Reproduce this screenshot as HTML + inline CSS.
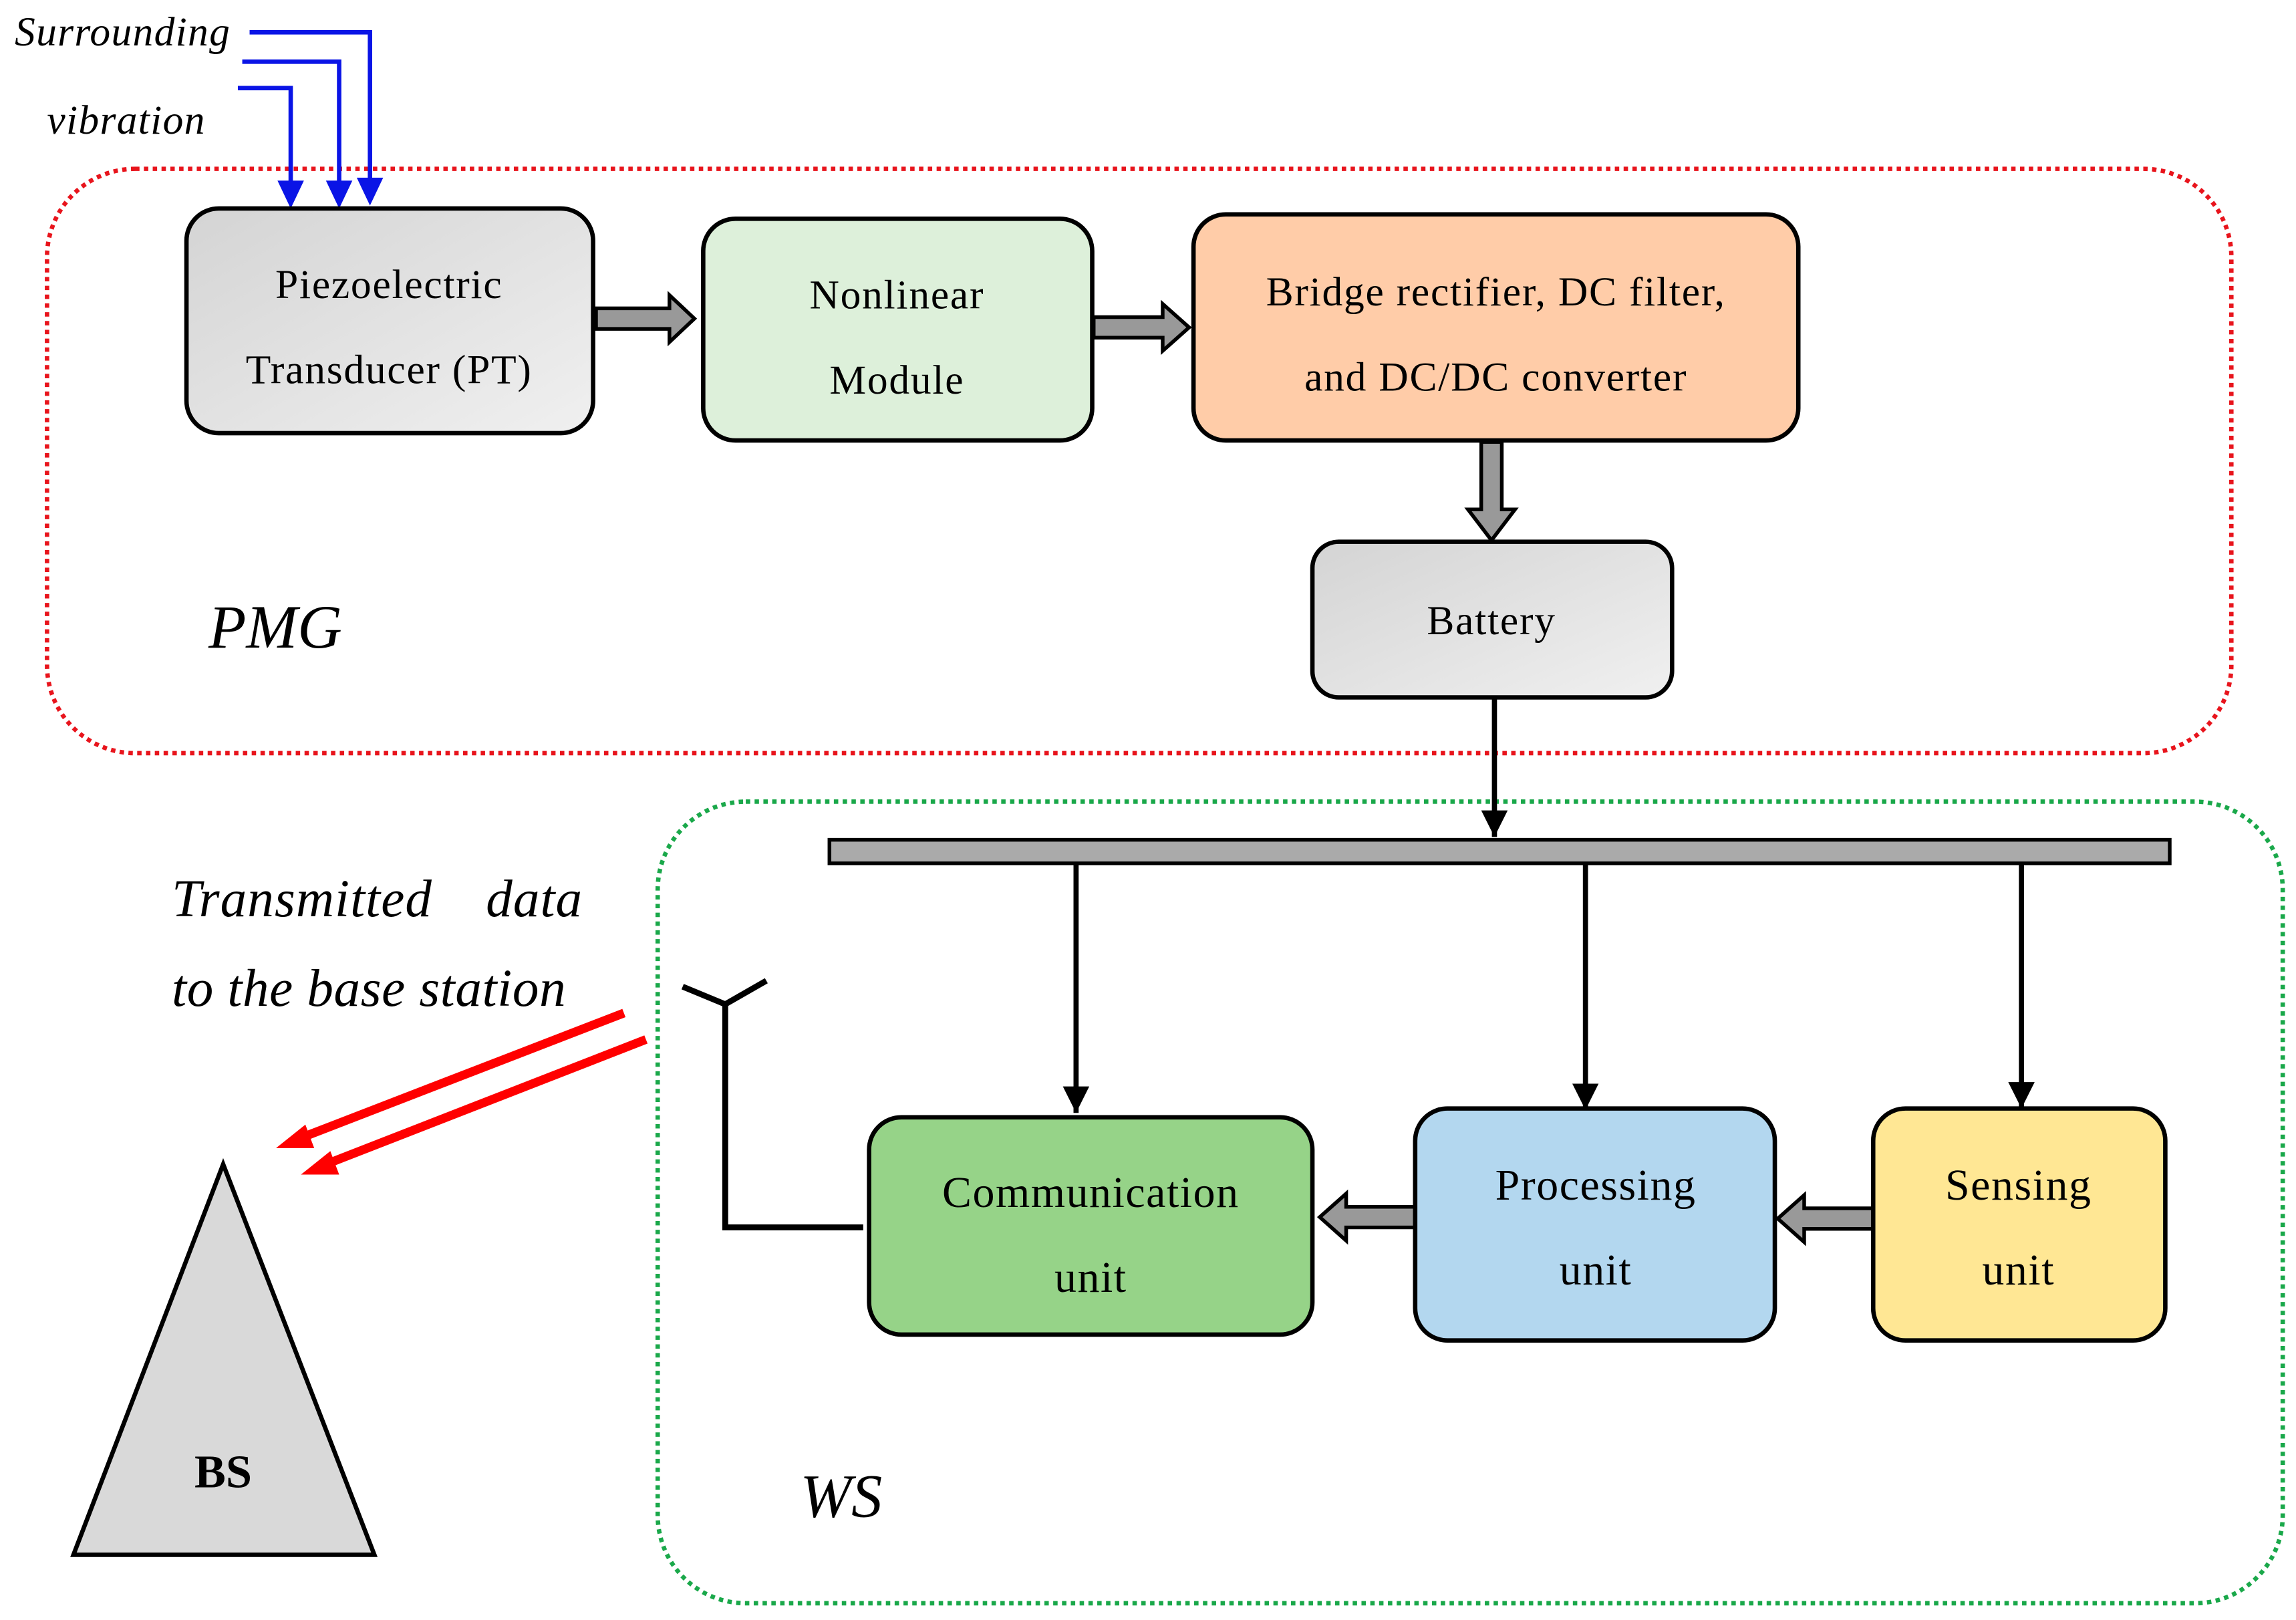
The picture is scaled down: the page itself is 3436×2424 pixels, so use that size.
<!DOCTYPE html>
<html><head><meta charset="utf-8"><style>html,body{margin:0;padding:0;background:#fff}svg{display:block}</style></head>
<body>
<svg width="3436" height="2424" viewBox="0 0 1564 1103.4" xmlns="http://www.w3.org/2000/svg" font-family="'Liberation Serif', serif">
<defs>
<linearGradient id="g" x1="0" y1="0" x2="1" y2="1"><stop offset="0" stop-color="#d4d4d4"/><stop offset="1" stop-color="#f0f0f0"/></linearGradient>
<marker id="ab" markerWidth="20" markerHeight="20" refX="18" refY="9" orient="auto" markerUnits="userSpaceOnUse"><path d="M0,0 L18,9 L0,18z" fill="#000"/></marker>
</defs>
<!-- containers -->
<rect x="32" y="115" width="1488" height="398" rx="60" fill="none" stroke="#e8141c" stroke-width="3" stroke-dasharray="3,3"/>
<rect x="448" y="546" width="1107" height="546" rx="60" fill="none" stroke="#1aa84a" stroke-width="3" stroke-dasharray="3,3"/>
<!-- blue input arrows -->
<g stroke="#0a14e6" stroke-width="3" fill="none">
<polyline points="170,22 252,22 252,125"/>
<polyline points="165,42 231,42 231,127"/>
<polyline points="162,60 198,60 198,127"/>
</g>
<g fill="#0a14e6">
<path d="M243,121 L261,121 L252,140z"/>
<path d="M222,123 L240,123 L231,142z"/>
<path d="M189,123 L207,123 L198,142z"/>
</g>
<text x="10" y="31" font-size="28" font-style="italic" letter-spacing="0.6">Surrounding</text>
<text x="32" y="91" font-size="28" font-style="italic" letter-spacing="0.6">vibration</text>
<!-- PMG boxes -->
<g font-size="28" letter-spacing="0.8" text-anchor="middle">
<rect x="127" y="142" width="277" height="153" rx="22" fill="url(#g)" stroke="#000" stroke-width="3"/>
<text x="265" y="203">Piezoelectric</text>
<text x="265" y="261">Transducer (PT)</text>
<rect x="479" y="149" width="265" height="151" rx="22" fill="#ddf0da" stroke="#000" stroke-width="3"/>
<text x="611" y="210">Nonlinear</text>
<text x="611" y="268">Module</text>
<rect x="813" y="146" width="412" height="154" rx="22" fill="#ffcca8" stroke="#000" stroke-width="3"/>
<text x="1019" y="208">Bridge rectifier, DC filter,</text>
<text x="1019" y="266">and DC/DC converter</text>
<rect x="894" y="369" width="245" height="106" rx="18" fill="url(#g)" stroke="#000" stroke-width="3"/>
<text x="1016" y="432">Battery</text>
</g>
<text x="142" y="441" font-size="42" font-style="italic">PMG</text>
<!-- block arrows -->
<g fill="#999" stroke="#000" stroke-width="2.5" stroke-linejoin="miter">
<path d="M406,210 L456,210 L456,201 L473,217 L456,233 L456,224 L406,224z"/>
<path d="M745,216 L792,216 L792,207 L810,223 L792,239 L792,230 L745,230z"/>
<path d="M1009,301 L1009,347 L1000,347 L1016,368 L1032,347 L1023,347 L1023,301z"/>
<path d="M964,822 L917,822 L917,813 L899,829 L917,845 L917,836 L964,836z"/>
<path d="M1276,823 L1229,823 L1229,814 L1211,830 L1229,846 L1229,837 L1276,837z"/>
</g>
<!-- battery to bus -->
<line x1="1018" y1="476" x2="1018" y2="570" stroke="#000" stroke-width="3.5" marker-end="url(#ab)"/>
<rect x="565" y="572" width="913" height="16" fill="#aaa" stroke="#000" stroke-width="2.5"/>
<g stroke="#000" stroke-width="3.5" marker-end="url(#ab)">
<line x1="733" y1="589" x2="733" y2="758"/>
<line x1="1080" y1="589" x2="1080" y2="756"/>
<line x1="1377" y1="589" x2="1377" y2="755"/>
</g>
<!-- WS boxes -->
<g font-size="30" letter-spacing="0.7" text-anchor="middle">
<rect x="592" y="761" width="302" height="148" rx="22" fill="#96d388" stroke="#000" stroke-width="3"/>
<text x="743" y="822">Communication</text>
<text x="743" y="880">unit</text>
<rect x="964" y="755" width="245" height="158" rx="22" fill="#b3d7ef" stroke="#000" stroke-width="3"/>
<text x="1087" y="817">Processing</text>
<text x="1087" y="875">unit</text>
<rect x="1276" y="755" width="199" height="158" rx="22" fill="#ffe794" stroke="#000" stroke-width="3"/>
<text x="1375" y="817">Sensing</text>
<text x="1375" y="875">unit</text>
</g>
<text x="545" y="1033" font-size="42" font-style="italic">WS</text>
<!-- antenna -->
<g stroke="#000" stroke-width="4" fill="none">
<polyline points="588,836 494,836 494,683"/>
<line x1="494" y1="684" x2="465" y2="672"/>
<line x1="494" y1="684" x2="522" y2="668"/>
</g>
<!-- red arrows -->
<g stroke="#ff0000" stroke-width="6">
<line x1="425" y1="690" x2="205" y2="775"/>
<line x1="440" y1="708" x2="222" y2="793"/>
</g>
<g fill="#ff0000">
<path d="M188,782 L208,766 L214,782z"/>
<path d="M205,800 L225,784 L231,800z"/>
</g>
<text x="117" y="624" font-size="36" font-style="italic" letter-spacing="0.5">Transmitted</text>
<text x="331" y="624" font-size="36" font-style="italic" letter-spacing="0.5">data</text>
<text x="117" y="685" font-size="36" font-style="italic" letter-spacing="0.3">to the base station</text>
<!-- BS -->
<path d="M152,793 L50,1059 L255,1059z" fill="#d9d9d9" stroke="#000" stroke-width="3"/>
<text x="152" y="1013" font-size="32" font-weight="bold" text-anchor="middle">BS</text>
</svg>
</body></html>
